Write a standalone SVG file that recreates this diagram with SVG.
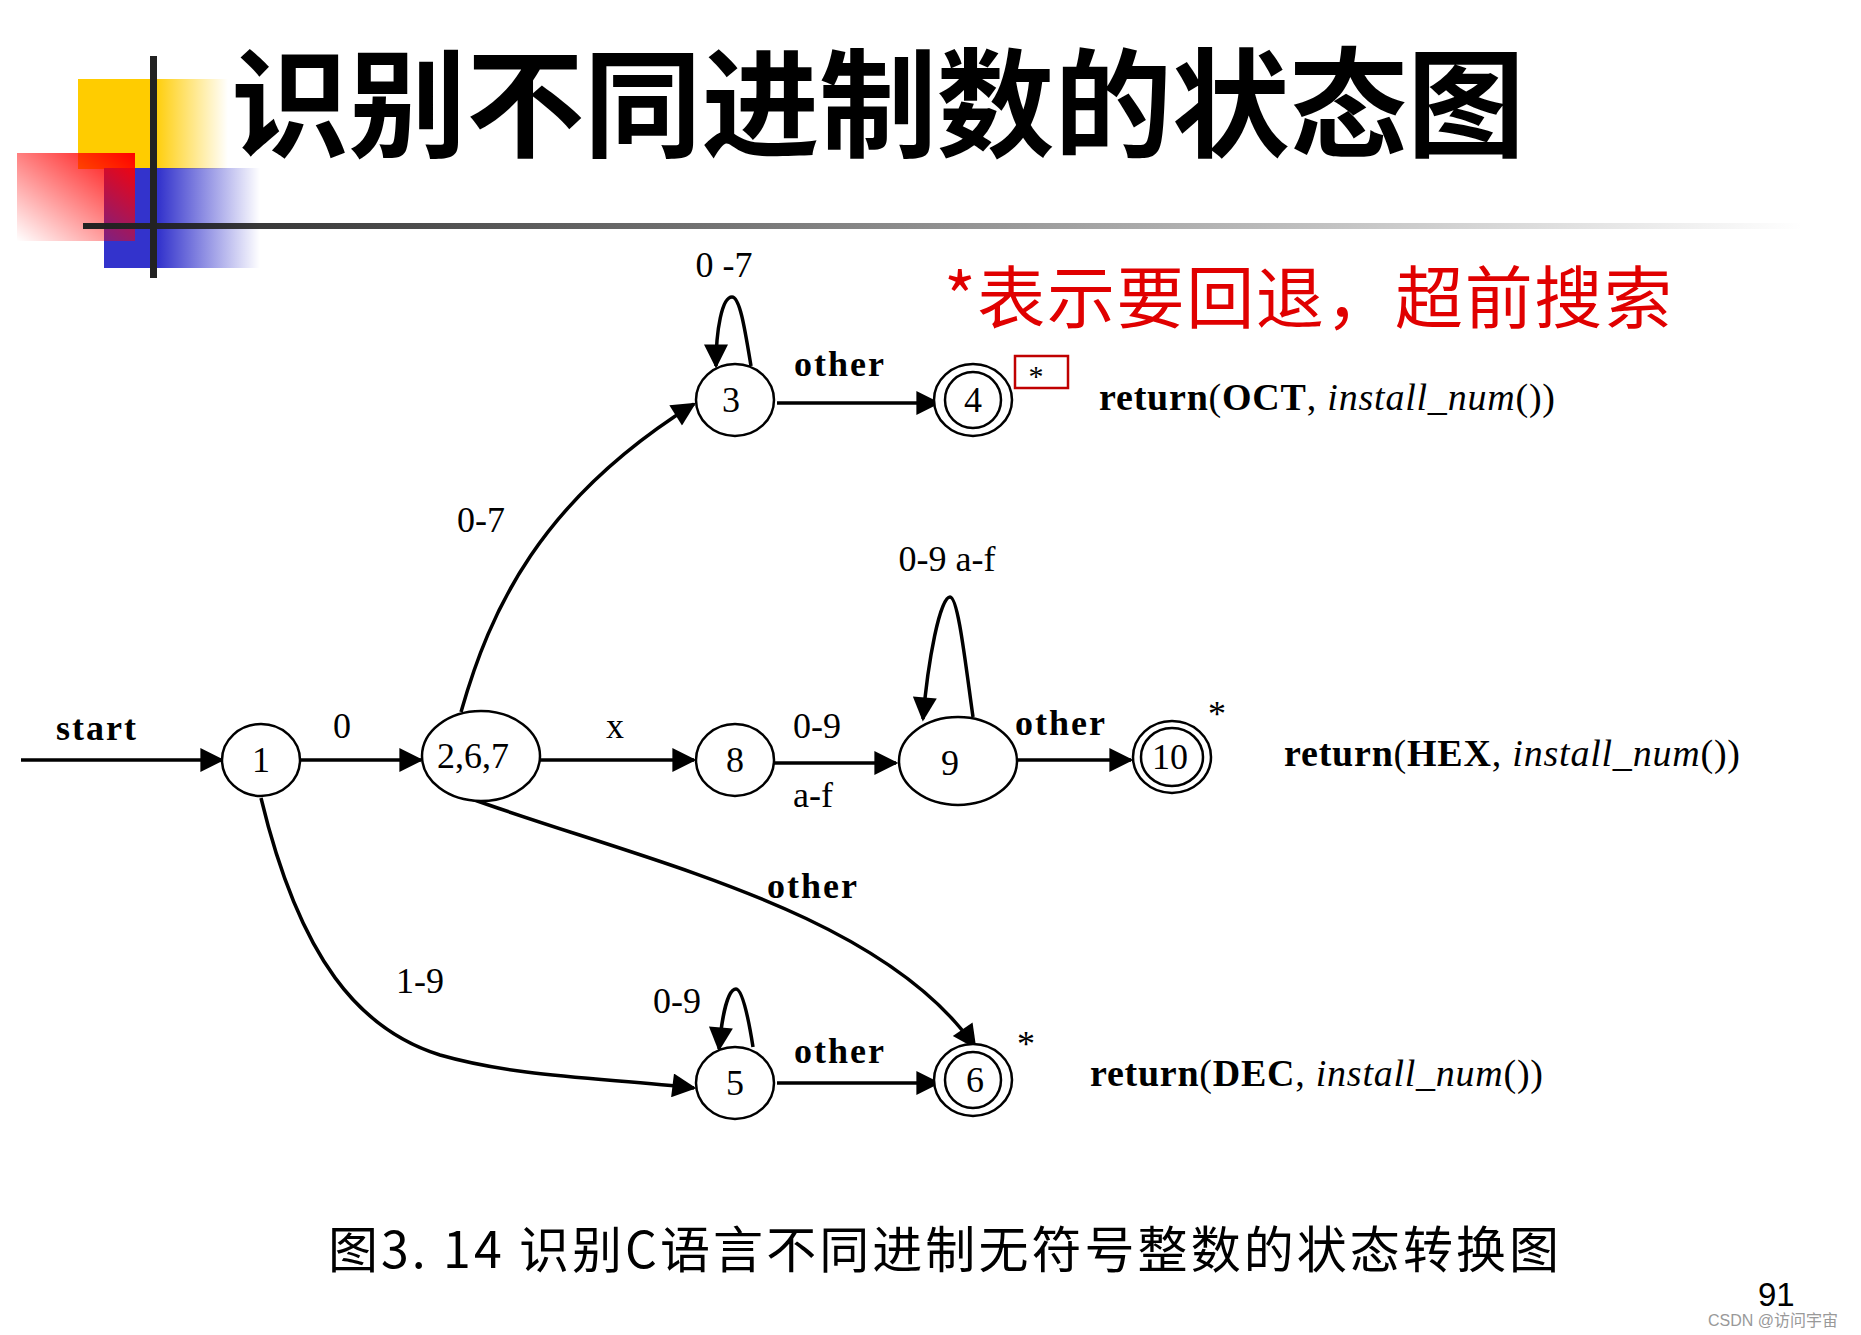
<svg xmlns="http://www.w3.org/2000/svg" width="1861" height="1335" viewBox="0 0 1861 1335">
<defs>
<linearGradient id="gy" x1="0" x2="1" y1="0" y2="0"><stop offset="0.5" stop-color="#ffcc00"/><stop offset="1" stop-color="#ffcc00" stop-opacity="0"/></linearGradient>
<linearGradient id="gb" x1="0" x2="1" y1="0" y2="0"><stop offset="0.35" stop-color="#3333cc"/><stop offset="1" stop-color="#3333cc" stop-opacity="0"/></linearGradient>
<linearGradient id="gr" x1="1" y1="0" x2="0" y2="1"><stop offset="0" stop-color="#ff0000"/><stop offset="1" stop-color="#ff0000" stop-opacity="0"/></linearGradient>
<linearGradient id="gl" x1="0" x2="1"><stop offset="0" stop-color="#222"/><stop offset="1" stop-color="#222" stop-opacity="0"/></linearGradient>
<marker id="ab" viewBox="0 0 10 10" refX="9" refY="5" markerWidth="26" markerHeight="24" orient="auto" markerUnits="userSpaceOnUse"><path d="M0,0 L10,5 L0,10 z" fill="#000"/></marker>
</defs>
<style>
.n ellipse{fill:#fff;stroke:#000;stroke-width:2.5}
.t{font-family:"Liberation Serif",serif;font-size:36px;fill:#000}
.b{font-weight:bold}
.e path{fill:none;stroke:#000;stroke-width:3.5;marker-end:url(#ab)}
</style>
<rect width="1861" height="1335" fill="#fff"/>
<g id="decor">
<rect x="78" y="79" width="150" height="90" fill="url(#gy)"/>
<rect x="104" y="168" width="156" height="100" fill="url(#gb)"/>
<rect x="17" y="153" width="118" height="88" fill="url(#gr)"/>
<rect x="83" y="223" width="1720" height="6" fill="url(#gl)"/>
<rect x="150" y="56" width="7" height="222" fill="#222"/>
</g>
<text x="231" y="148" font-family="'Noto Sans CJK SC',sans-serif" font-weight="bold" font-size="118" textLength="1294">识别不同进制数的状态图</text>
<text x="944" y="323" font-family="'Noto Sans CJK SC',sans-serif" font-size="68" fill="#e00000" textLength="728">*表示要回退，超前搜索</text>
<g id="connectors" class="e">
<path d="M21,760 L222,760"/>
<path d="M301,760 L421,760"/>
<path d="M540,760 L694,760"/>
<path d="M774,763 L896,763"/>
<path d="M1018,760 L1131,760"/>
<path d="M461,712 C490,610 540,500 694,404"/>
<path d="M751,366 C745,330 740,297 732,297 C722,297 716,330 716,366"/>
<path d="M777,403 L938,403"/>
<path d="M973,717 C965,660 958,597 950,597 C940,597 928,660 923,719"/>
<path d="M469,798 C640,860 880,910 975,1047"/>
<path d="M261,798 C300,960 360,1030 440,1055 C520,1078 610,1078 694,1088"/>
<path d="M753,1047 C748,1015 742,989 736,989 C728,989 722,1015 719,1049"/>
<path d="M777,1083 L938,1083"/>
</g>
<g id="n1" class="n"><ellipse cx="261" cy="760" rx="39" ry="36"/><text class="t" x="261" y="772" text-anchor="middle">1</text></g>
<g id="n267" class="n"><ellipse cx="481" cy="756" rx="59" ry="45"/><text class="t" x="473" y="768" text-anchor="middle">2,6,7</text></g>
<g id="n8" class="n"><ellipse cx="735" cy="760" rx="39" ry="36"/><text class="t" x="735" y="772" text-anchor="middle">8</text></g>
<g id="n9" class="n"><ellipse cx="958" cy="761" rx="59" ry="44"/><text class="t" x="950" y="775" text-anchor="middle">9</text></g>
<g id="n10" class="n"><ellipse cx="1172" cy="757" rx="39" ry="36"/><ellipse cx="1172" cy="757" rx="31" ry="29"/><text class="t" x="1170" y="769" text-anchor="middle">10</text></g>
<g id="n3" class="n"><ellipse cx="735" cy="400" rx="39" ry="36"/><text class="t" x="731" y="412" text-anchor="middle">3</text></g>
<g id="n4" class="n"><ellipse cx="973" cy="400" rx="39" ry="36"/><ellipse cx="973" cy="400" rx="28" ry="28"/><text class="t" x="973" y="412" text-anchor="middle">4</text></g>
<g id="n5" class="n"><ellipse cx="735" cy="1083" rx="39" ry="36"/><text class="t" x="735" y="1095" text-anchor="middle">5</text></g>
<g id="n6" class="n"><ellipse cx="973" cy="1080" rx="39" ry="36"/><ellipse cx="973" cy="1080" rx="28" ry="28"/><text class="t" x="975" y="1092" text-anchor="middle">6</text></g>
<g id="labels" class="t">
<text class="b" x="56" y="740" textLength="80">start</text>
<text x="342" y="738" text-anchor="middle">0</text>
<text x="615" y="738" text-anchor="middle">x</text>
<text x="817" y="738" text-anchor="middle">0-9</text>
<text x="813" y="807" text-anchor="middle">a-f</text>
<text class="b" x="1015" y="735" textLength="90">other</text>
<text x="481" y="532" text-anchor="middle">0-7</text>
<text x="724" y="277" text-anchor="middle">0 -7</text>
<text class="b" x="794" y="376" textLength="90">other</text>
<text x="947" y="571" text-anchor="middle">0-9 a-f</text>
<text class="b" x="767" y="898" textLength="90">other</text>
<text x="420" y="993" text-anchor="middle">1-9</text>
<text x="677" y="1013" text-anchor="middle">0-9</text>
<text class="b" x="794" y="1063" textLength="90">other</text>
<text x="1217" y="726" text-anchor="middle">*</text>
<text x="1026" y="1056" text-anchor="middle">*</text>
<rect x="1015" y="356" width="53" height="32" fill="none" stroke="#c00000" stroke-width="2.5"/>
<text x="1036" y="386" font-size="30" text-anchor="middle">*</text>
<text x="1099" y="410" font-size="38" textLength="456"><tspan font-weight="bold">return</tspan>(<tspan font-weight="bold">OCT</tspan>, <tspan font-style="italic">install_num</tspan>())</text>
<text x="1284" y="766" font-size="38" textLength="456"><tspan font-weight="bold">return</tspan>(<tspan font-weight="bold">HEX</tspan>, <tspan font-style="italic">install_num</tspan>())</text>
<text x="1090" y="1086" font-size="38" textLength="453"><tspan font-weight="bold">return</tspan>(<tspan font-weight="bold">DEC</tspan>, <tspan font-style="italic">install_num</tspan>())</text>
</g>
<text x="328" y="1268" font-family="'Noto Sans CJK SC',sans-serif" font-size="50" textLength="1231">图3. 14 识别C语言不同进制无符号整数的状态转换图</text>
<text x="1758" y="1306" font-family="'Liberation Sans',sans-serif" font-size="33">91</text>
<text x="1708" y="1326" font-family="'Liberation Sans','Noto Sans CJK SC',sans-serif" font-size="16" fill="#999">CSDN @访问宇宙</text>
</svg>
